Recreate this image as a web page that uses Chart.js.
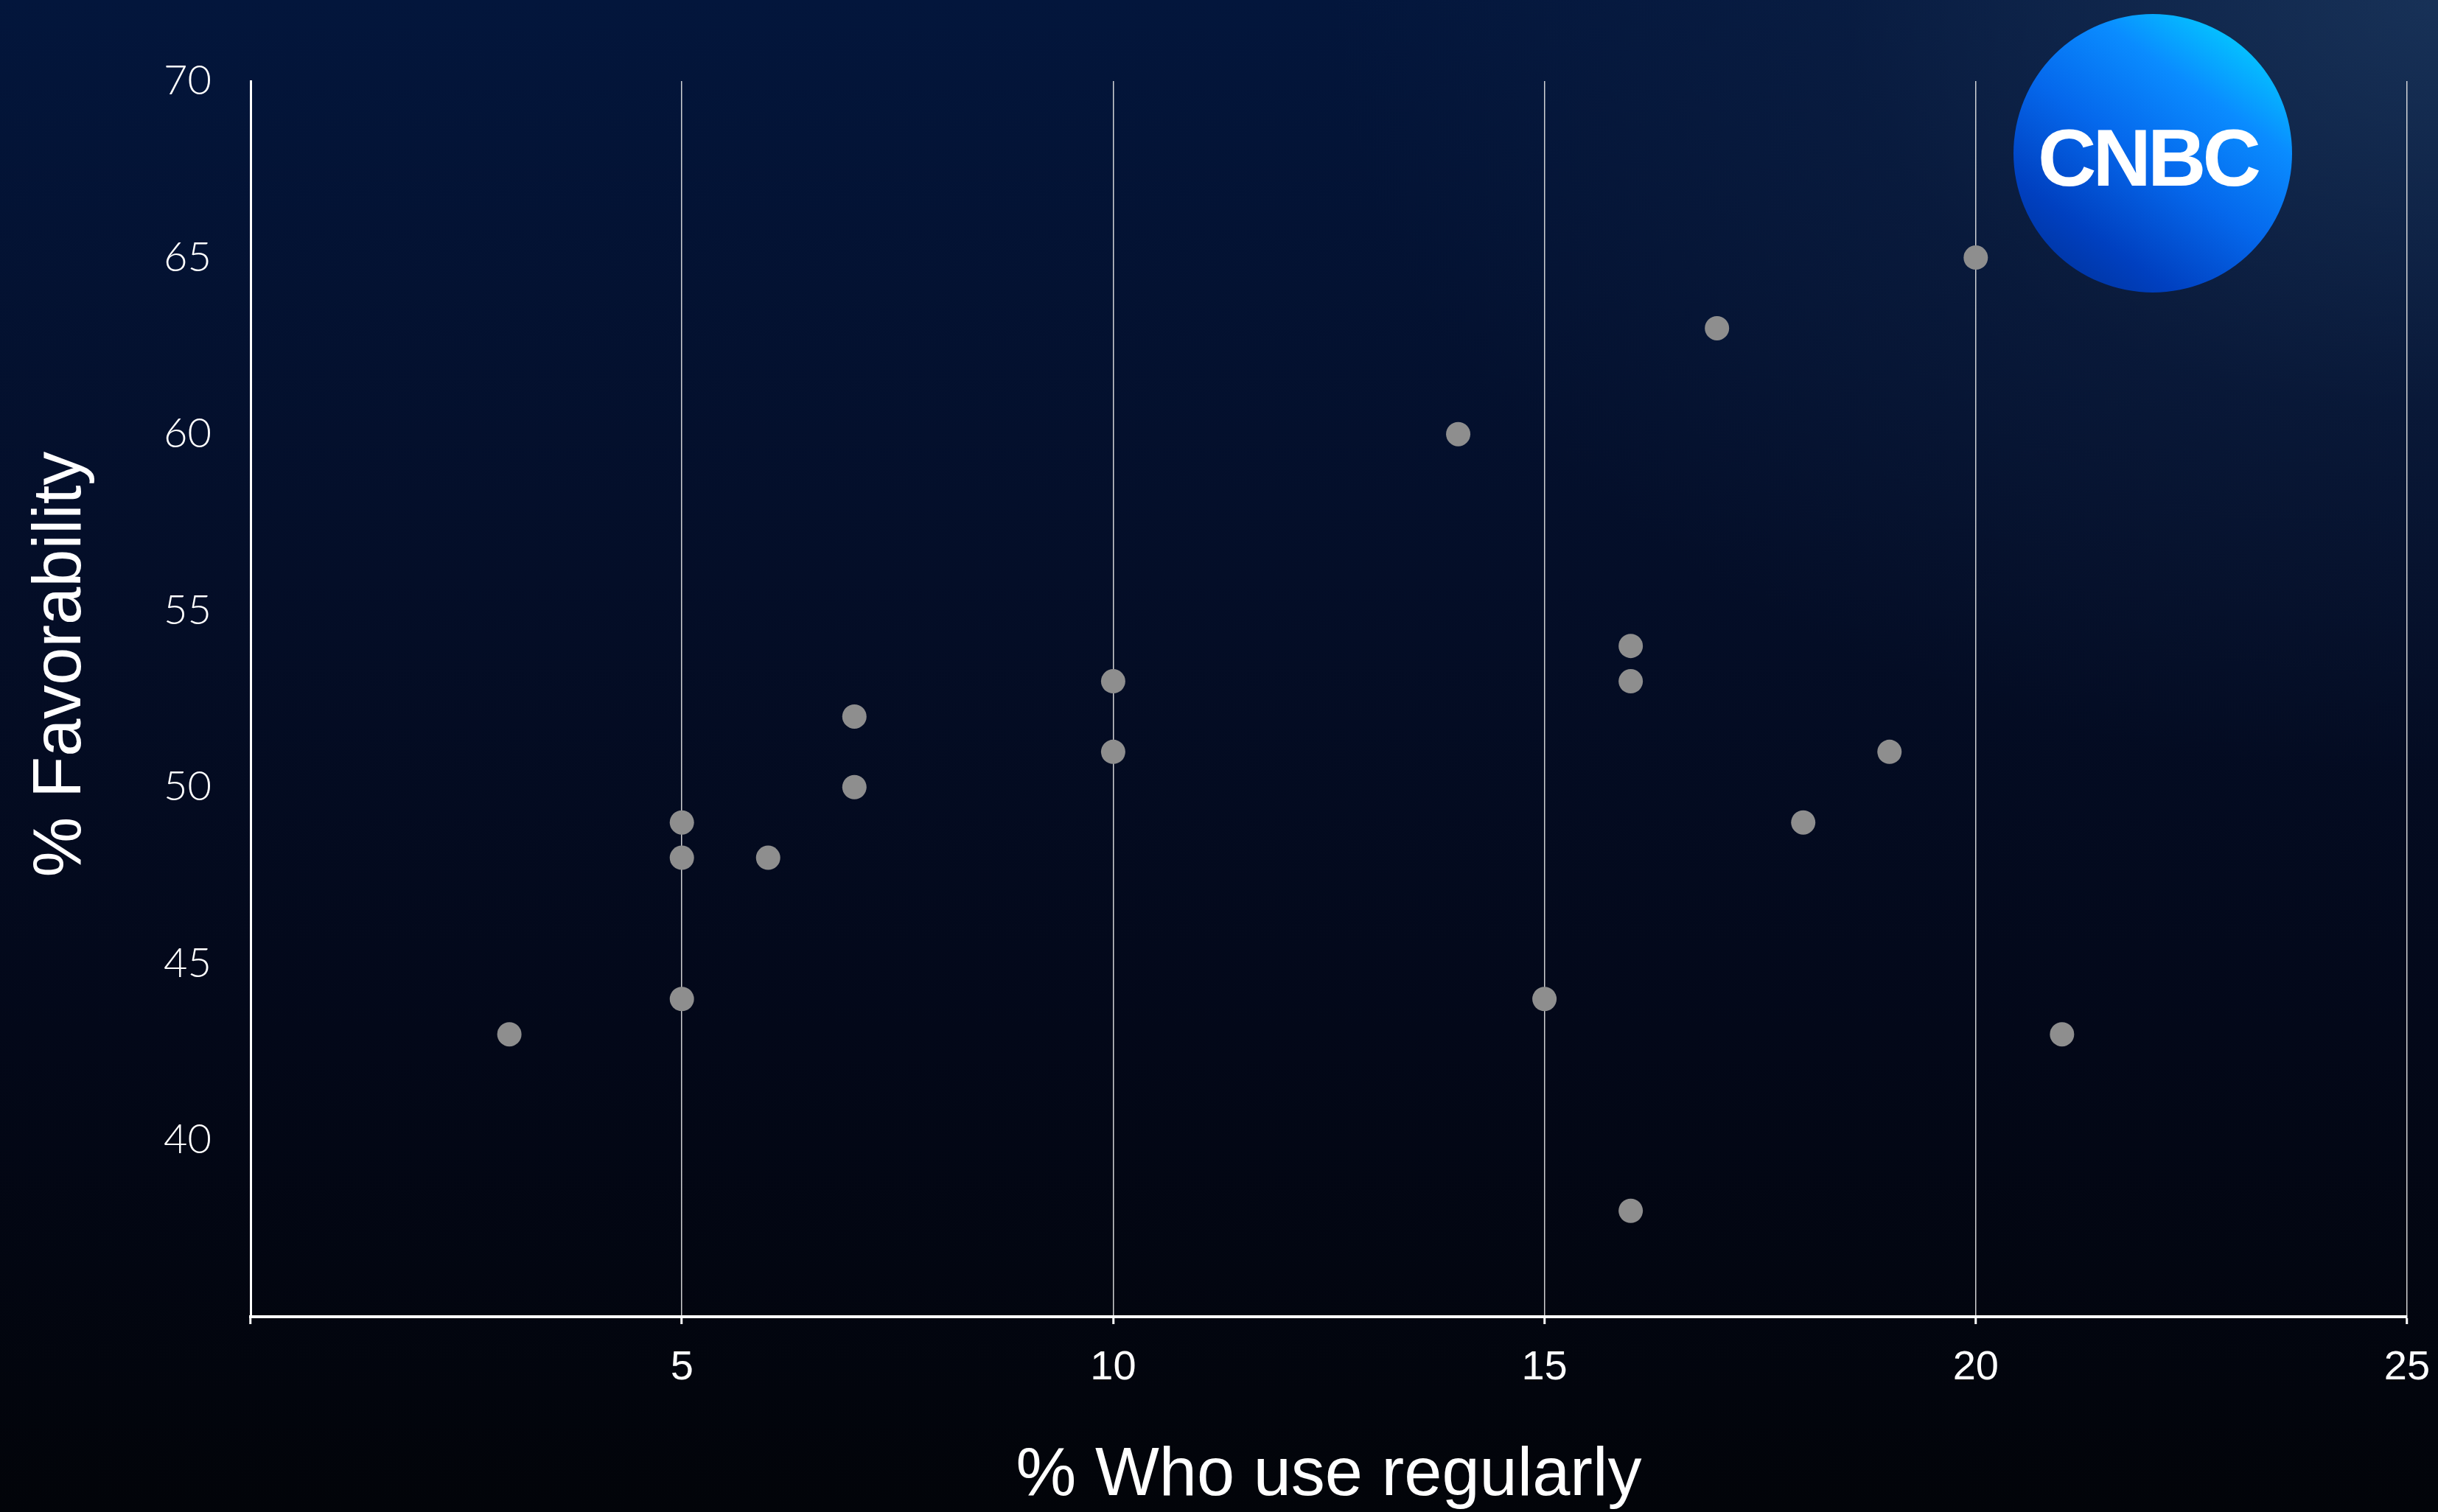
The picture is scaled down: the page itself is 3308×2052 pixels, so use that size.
<!DOCTYPE html>
<html>
<head>
<meta charset="utf-8">
<title>Favorability vs regular use</title>
<script src="https://cdn.jsdelivr.net/npm/chart.js@4.4.1/dist/chart.umd.min.js"></script>
<style>
  html, body { margin: 0; padding: 0; width: 3308px; height: 2052px; overflow: hidden; }
  body {
    background:
      radial-gradient(ellipse 2000px 1400px at 100% 0%, rgba(36, 66, 104, 0.62) 0%, rgba(22, 44, 80, 0.28) 40%, rgba(0, 0, 0, 0) 75%),
      linear-gradient(180deg, #03163c 0%, #040e28 38%, #030819 68%, #020409 100%);
  }
  #wrap { position: relative; width: 3308px; height: 2052px; }
  #chart { position: absolute; left: 0; top: 0; }
  .logo {
    position: absolute; left: 2732px; top: 19px; width: 378px; height: 378px; border-radius: 50%;
    background: linear-gradient(215deg, #00ecff 0%, #0a8cff 30%, #0568ec 52%, #0040c0 76%, #002c8c 100%);
    display: flex; align-items: center; justify-content: center;
  }
  .logo span {
    color: #fff; font-family: "Liberation Sans", Arial, sans-serif; font-weight: 700;
    font-size: 110px; letter-spacing: -5px; line-height: 1; padding-top: 12px; margin-left: -14px;
  }
</style>
</head>
<body>
<div id="wrap">
  <canvas id="chart" width="3308" height="2052"></canvas>
  <div class="logo"><span>CNBC</span></div>
</div>
<script>
// Share of people who use each service regularly (%) and its favorability (%)
const usage        = [3, 5, 5, 5, 6, 7, 7, 10, 10, 14, 15, 16, 16, 16, 17, 18, 19, 20, 21];
const favorability = [43, 49, 48, 44, 48, 52, 50, 53, 51, 60, 44, 54, 53, 38, 63, 49, 51, 65, 43];

// Axis tick values
const xTicks = [0, 5, 10, 15, 20, 25];
const yTicks = [35, 40, 45, 50, 55, 60, 65, 70];

const xTitle = '% Who use regularly';
const yTitle = '% Favorability';

const points = usage.map((u, i) => ({ x: u, y: favorability[i] }));

// Vertical axis title, drawn a little above the axis midpoint
const yTitlePlugin = {
  id: 'yTitle',
  afterDraw(chart) {
    const { ctx, chartArea } = chart;
    ctx.save();
    ctx.translate(84, chartArea.top + (chartArea.bottom - chartArea.top) * 0.472);
    ctx.rotate(-Math.PI / 2);
    ctx.font = '92px "Liberation Sans", Arial, sans-serif';
    ctx.fillStyle = '#ffffff';
    ctx.textAlign = 'center';
    ctx.textBaseline = 'middle';
    ctx.fillText(yTitle, 0, 0);
    ctx.restore();
  }
};

new Chart(document.getElementById('chart'), {
  type: 'scatter',
  data: {
    datasets: [{
      data: points,
      backgroundColor: '#8e8e8e',
      borderWidth: 0,
      pointRadius: 16.5,
      pointHoverRadius: 16.5
    }]
  },
  options: {
    responsive: false,
    devicePixelRatio: 1,
    animation: false,
    layout: { padding: { left: 0, top: 110, right: 42, bottom: 0 } },
    plugins: { legend: { display: false }, tooltip: { enabled: false } },
    scales: {
      x: {
        type: 'linear',
        min: xTicks[0],
        max: xTicks[xTicks.length - 1],
        afterFit(scale) { scale.height = 265; scale.paddingLeft = 0; scale.paddingRight = 0; },
        afterBuildTicks(scale) { scale.ticks = xTicks.map(v => ({ value: v })); },
        ticks: {
          color: '#ffffff',
          padding: 26,
          font: { family: '"Liberation Sans", Arial, sans-serif', size: 56 },
          callback: v => (v === xTicks[0] ? '' : String(v))
        },
        grid: {
          display: true,
          color: 'rgba(230, 230, 230, 0.9)',
          lineWidth: 1.5,
          drawTicks: true,
          tickLength: 10,
          tickColor: '#ffffff',
          tickWidth: 3
        },
        border: { display: true, color: '#ffffff', width: 4 },
        title: {
          display: true,
          text: xTitle,
          color: '#ffffff',
          font: { family: '"Liberation Sans", Arial, sans-serif', size: 92, lineHeight: 1 },
          padding: { top: 0, bottom: 2 }
        }
      },
      y: {
        type: 'linear',
        min: yTicks[0],
        max: yTicks[yTicks.length - 1],
        afterFit(scale) { scale.width = 340; scale.paddingTop = 0; scale.paddingBottom = 0; },
        afterBuildTicks(scale) { scale.ticks = yTicks.map(v => ({ value: v })); },
        ticks: {
          color: '#ffffff',
          padding: 53,
          font: { family: 'Lato, "Open Sans", sans-serif', size: 56, weight: 300 },
          callback: v => (v === yTicks[0] ? '' : String(v))
        },
        grid: { display: false, drawTicks: false },
        border: { display: true, color: '#ffffff', width: 3 }
      }
    }
  },
  plugins: [yTitlePlugin]
});
</script>
</body>
</html>
